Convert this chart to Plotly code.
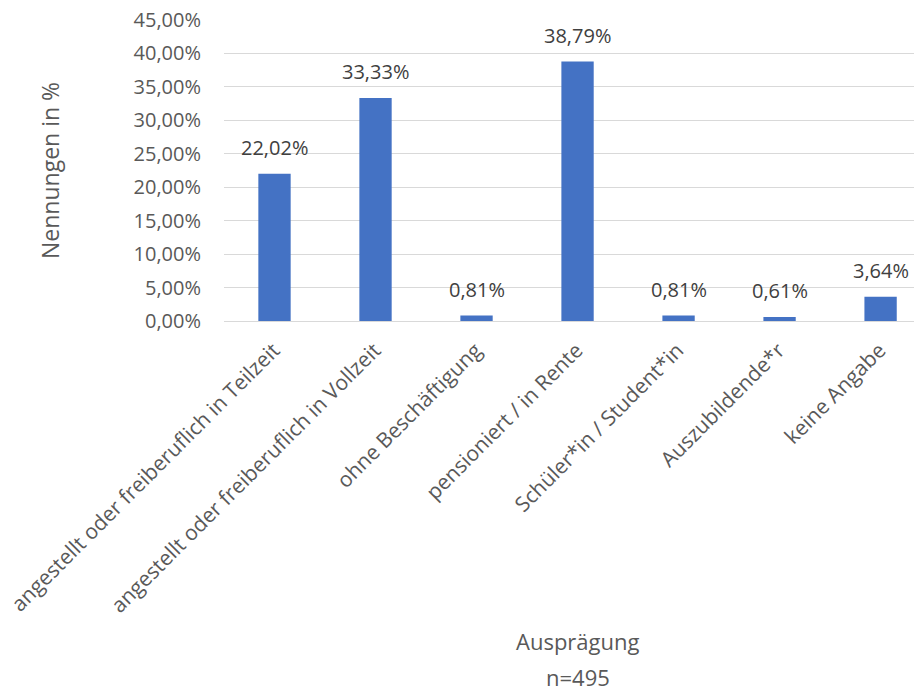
import plotly.graph_objects as go

categories = [
    "angestellt oder freiberuflich in Teilzeit",
    "angestellt oder freiberuflich in Vollzeit",
    "ohne Beschäftigung",
    "pensioniert / in Rente",
    "Schüler*in / Student*in",
    "Auszubildende*r",
    "keine Angabe",
]
shares = [22.02, 33.33, 0.81, 38.79, 0.81, 0.61, 3.64]
y_ticks = [0, 5, 10, 15, 20, 25, 30, 35, 40, 45]


def de_pct(v):
    return f"{v:.2f}%".replace(".", ",")


font_name = "Open Sans"
x_pos = list(range(len(categories)))

fig = go.Figure(
    data=[
        go.Bar(
            x=x_pos,
            y=shares,
            width=0.32,
            marker=dict(color="#4472C4", line=dict(width=0)),
            hoverinfo="skip",
        )
    ]
)

# value labels above the bars
labels = [
    dict(
        x=x, y=v, xref="x", yref="y",
        text=de_pct(v), showarrow=False,
        xanchor="center", yanchor="bottom", yshift=11,
        font=dict(family=font_name, size=20, color="#404040"),
    )
    for x, v in zip(x_pos, shares)
]

# page body has an 8px margin, so the figure is sized to stay inside the window
fig.update_layout(
    width=914,
    height=683,
    margin=dict(l=216, r=0, t=12, b=370),
    plot_bgcolor="white",
    paper_bgcolor="white",
    font=dict(family=font_name, size=18, color="#595959"),
    showlegend=False,
    xaxis=dict(
        tickmode="array",
        tickvals=x_pos,
        ticktext=categories,
        tickangle=-45,
        tickfont=dict(size=21, color="#595959"),
        ticklabelshift=-1,
        ticklabelstandoff=12,
        ticklabeloverflow="allow",
        range=[-0.5, 6.41],
        showgrid=False,
        showline=False,
        zeroline=False,
        ticks="",
        automargin=False,
    ),
    yaxis=dict(
        range=[0, 45],
        tickmode="array",
        tickvals=y_ticks,
        ticktext=[de_pct(v) for v in y_ticks],
        tickfont=dict(size=20, color="#595959"),
        ticklabeloverflow="allow",
        showgrid=True,
        gridcolor="#D9D9D9",
        gridwidth=1,
        zeroline=True,
        zerolinecolor="#D9D9D9",
        zerolinewidth=1,
        ticks="",
        ticklabelstandoff=22,
        automargin=False,
    ),
    annotations=labels + [
        dict(
            text="Ausprägung",
            xref="x", yref="paper",
            x=3, y=-1.007,
            xanchor="center", yanchor="top",
            showarrow=False,
            font=dict(family=font_name, size=22, color="#595959"),
        ),
        dict(
            text="n=495",
            xref="x", yref="paper",
            x=3, y=-1.125,
            xanchor="center", yanchor="top",
            showarrow=False,
            font=dict(family=font_name, size=22, color="#595959"),
        ),
        dict(
            text="Nennungen in %",
            xref="paper", yref="paper",
            x=-0.25, y=0.5,
            xanchor="center", yanchor="middle",
            textangle=-90,
            showarrow=False,
            font=dict(family=font_name, size=23, color="#595959"),
        ),
    ],
)

fig.write_html("out.html")
